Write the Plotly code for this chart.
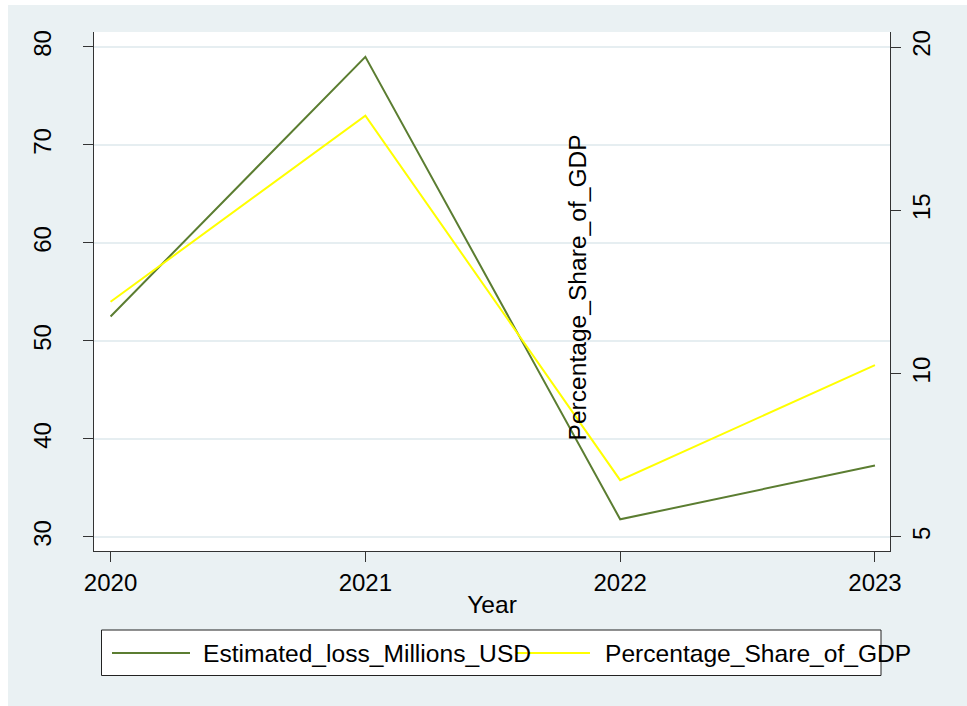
import plotly.graph_objects as go

# ---- data ----
years = [2020, 2021, 2022, 2023]
estimated_loss = [52.5, 79.0, 31.8, 37.3]
pct_share_gdp = [12.2, 17.9, 6.74, 10.26]
left_ticks = [30, 40, 50, 60, 70, 80]
right_ticks = [5, 10, 15, 20]
name1 = "Estimated_loss_Millions_USD"
name2 = "Percentage_Share_of_GDP"

W, H = 967, 706
ML, MR, MT, MB = 94, 77, 32, 155
PW, PH = W - ML - MR, H - MT - MB

def px(x):
    return (x - ML) / PW

def py(y):
    return (H - MB - y) / PH

FONT = "Liberation Sans, Arial, sans-serif"
GREEN = "#5B7D31"
YELLOW = "#FFFF00"
BG = "#EAF1F3"

fig = go.Figure()
fig.add_trace(go.Scatter(x=years, y=estimated_loss, mode="lines", name=name1,
                         line=dict(color=GREEN, width=2), showlegend=False))
fig.add_trace(go.Scatter(x=years, y=pct_share_gdp, mode="lines", name=name2,
                         line=dict(color=YELLOW, width=2), yaxis="y2", showlegend=False))

shapes = [
    # white outer border strips
    dict(type="rect", xref="paper", yref="paper", x0=px(0), x1=px(8), y0=py(H), y1=py(0),
         fillcolor="white", line=dict(width=0), layer="below"),
    dict(type="rect", xref="paper", yref="paper", x0=px(0), x1=px(W), y0=py(5), y1=py(0),
         fillcolor="white", line=dict(width=0), layer="below"),
    # legend box
    dict(type="rect", xref="paper", yref="paper", x0=px(101.5), x1=px(881), y0=py(675.5), y1=py(630),
         fillcolor="white", line=dict(color="#222222", width=1)),
    dict(type="line", xref="paper", yref="paper", x0=px(112), x1=px(190), y0=py(653), y1=py(653),
         line=dict(color=GREEN, width=2)),
    dict(type="line", xref="paper", yref="paper", x0=px(517), x1=px(590), y0=py(653), y1=py(653),
         line=dict(color=YELLOW, width=2)),
]

annotations = [
    dict(text=name1, xref="paper", yref="paper", x=px(201), y=py(653), xanchor="left",
         yanchor="middle", showarrow=False, font=dict(family=FONT, size=24.6, color="black")),
    dict(text=name2, xref="paper", yref="paper", x=px(603), y=py(653), xanchor="left",
         yanchor="middle", showarrow=False, font=dict(family=FONT, size=24.6, color="black")),
    # misplaced right-axis title as in the reference
    dict(text=name2, xref="paper", yref="paper", x=px(577), y=py(287.5), xanchor="center",
         yanchor="middle", textangle=-90, showarrow=False,
         font=dict(family=FONT, size=24.6, color="black")),
]

fig.update_layout(
    width=W, height=H,
    margin=dict(l=ML, r=MR, t=MT, b=MB, pad=0),
    paper_bgcolor=BG, plot_bgcolor="white",
    font=dict(family=FONT, size=24, color="black"),
    showlegend=False,
    shapes=shapes, annotations=annotations,
    xaxis=dict(range=[2019.935, 2023.059], tickvals=years, ticktext=[str(y) for y in years],
               ticks="outside", ticklen=10, tickcolor="#333333", tickwidth=1,
               showline=True, linecolor="#333333", linewidth=1, showgrid=False, zeroline=False,
               title=dict(text="Year", standoff=0, font=dict(size=24.6))),
    yaxis=dict(range=[28.57, 81.53], tickvals=left_ticks, tickangle=-90,
               ticks="outside", ticklen=10, tickcolor="#333333", tickwidth=1,
               ticklabelstandoff=22,
               showline=True, linecolor="#333333", linewidth=1,
               showgrid=True, gridcolor="#E6EEF1", gridwidth=2, zeroline=False),
    yaxis2=dict(range=[4.571, 20.46], tickvals=right_ticks, tickangle=-90, overlaying="y", side="right",
                ticks="outside", ticklen=10, tickcolor="#333333", tickwidth=1,
                showline=True, linecolor="#333333", linewidth=1,
                showgrid=False, zeroline=False),
)

fig.write_html("out.html")
